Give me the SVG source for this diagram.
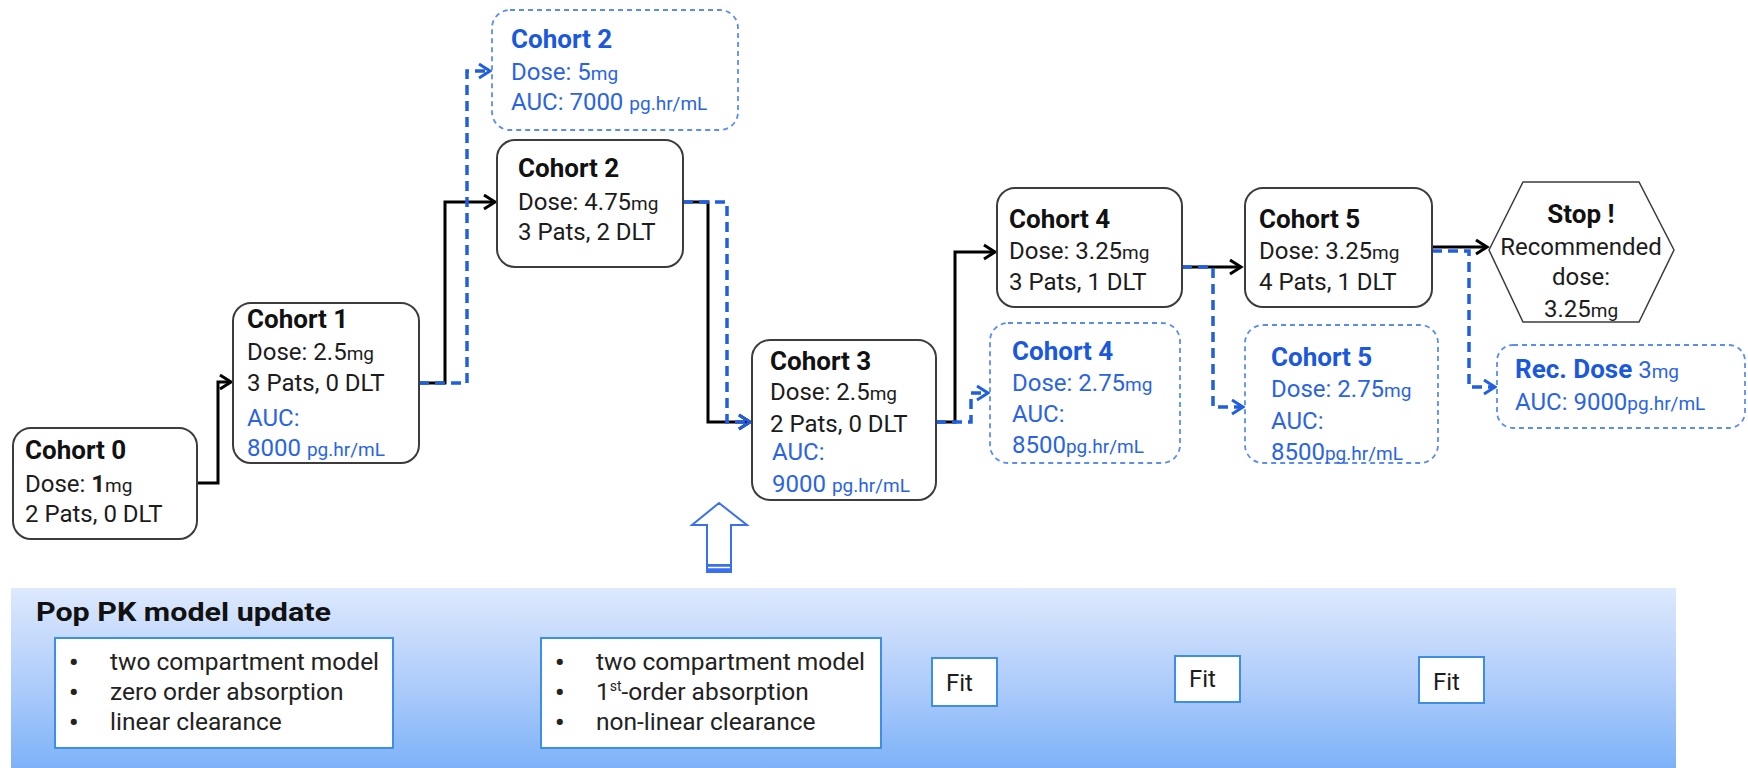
<svg xmlns="http://www.w3.org/2000/svg" width="1748" height="768" viewBox="0 0 1748 768">
<style>
text{font-family:Roboto,"Liberation Sans",Arial,sans-serif;}
.box{fill:#fff;stroke:#3c3c3c;stroke-width:2;}
.dbox{fill:#fff;stroke:#5b8def;stroke-width:1.8;stroke-dasharray:5 4;}
.h{font-size:26px;font-weight:bold;fill:#111;}
.hb{font-size:26px;font-weight:bold;fill:#1a58de;}
.t{font-size:24px;fill:#1c1c1c;}
.tb{font-size:24px;fill:#2a64e4;}
.u{font-size:19px;}
.ck{fill:none;stroke:#000;stroke-width:3;}
.cb{fill:none;stroke:#1f5fe0;stroke-width:3.5;stroke-dasharray:10 6;}
.pbox{fill:#fff;stroke:#3d8fe6;stroke-width:2;}
.bt{font-size:24.5px;fill:#222;}
.bul{font-size:26px;font-weight:bold;fill:#222;}
</style>
<defs>
<marker id="ak" markerUnits="userSpaceOnUse" markerWidth="18" markerHeight="20" refX="13" refY="8" orient="auto" overflow="visible">
<path d="M2,1 L13,8 L2,15" fill="none" stroke="#000" stroke-width="3" stroke-dasharray="none"/>
</marker>
<marker id="ab" markerUnits="userSpaceOnUse" markerWidth="18" markerHeight="20" refX="13" refY="8" orient="auto" overflow="visible">
<path d="M2,1 L13,8 L2,15" fill="none" stroke="#1f5fe0" stroke-width="3" stroke-dasharray="none"/>
</marker>
<linearGradient id="pg" x1="0" y1="0" x2="0" y2="1">
<stop offset="0" stop-color="#dde9fd"/>
<stop offset="0.5" stop-color="#b2cefb"/>
<stop offset="1" stop-color="#7db2f8"/>
</linearGradient>
</defs>

<g id="panel">
<rect x="11" y="588" width="1665" height="180" fill="url(#pg)"/>
<text x="36" y="621" class="h" font-size="27" textLength="295" lengthAdjust="spacingAndGlyphs">Pop PK model update</text>
</g>
<g id="model1">
<rect class="pbox" x="55" y="638" width="338" height="110"/>
<text class="bul" x="69" y="671">•</text><text class="bt" x="110" y="670">two compartment model</text>
<text class="bul" x="69" y="701">•</text><text class="bt" x="110" y="700">zero order absorption</text>
<text class="bul" x="69" y="731">•</text><text class="bt" x="110" y="730">linear clearance</text>
</g>
<g id="model2">
<rect class="pbox" x="541" y="638" width="340" height="110"/>
<text class="bul" x="555" y="671">•</text><text class="bt" x="596" y="670">two compartment model</text>
<text class="bul" x="555" y="701">•</text><text class="bt" x="596" y="700">1<tspan font-size="14" dy="-9">st</tspan><tspan dy="9">-order absorption</tspan></text>
<text class="bul" x="555" y="731">•</text><text class="bt" x="596" y="730">non-linear clearance</text>
</g>
<g id="fit1"><rect class="pbox" x="932" y="658" width="65" height="48"/><text class="t" x="946" y="691">Fit</text></g>
<g id="fit2"><rect class="pbox" x="1175" y="656" width="65" height="46"/><text class="t" x="1189" y="687">Fit</text></g>
<g id="fit3"><rect class="pbox" x="1419" y="657" width="65" height="46"/><text class="t" x="1433" y="690">Fit</text></g>

<g id="uparrow">
<polygon points="719,503 747,525 731,525 731,572 707,572 707,525 692,525" fill="#fff" stroke="#3a6ff0" stroke-width="2" stroke-linejoin="miter"/>
<rect x="707" y="564" width="24" height="8" fill="#3a6ff0"/>
<line x1="708" y1="567.5" x2="730" y2="567.5" stroke="#fff" stroke-width="1.5"/>
</g>

<g id="connectors">
<path class="ck" d="M197,483 H218 V382 H231" marker-end="url(#ak)"/>
<path class="ck" d="M419,383 H445 V202 H495" marker-end="url(#ak)"/>
<path class="cb" d="M419,383 H467 V71 H490" marker-end="url(#ab)"/>
<path class="ck" d="M683,202 H708 V422 H750" marker-end="url(#ak)"/>
<path class="cb" d="M683,202 H727 V422 H750" marker-end="url(#ab)"/>
<path class="ck" d="M936,422 H955 V252 H995" marker-end="url(#ak)"/>
<path class="cb" d="M936,422 H971 V393 H988" marker-end="url(#ab)"/>
<path class="ck" d="M1182,267 H1241" marker-end="url(#ak)"/>
<path class="cb" d="M1182,267 H1213 V407 H1243" marker-end="url(#ab)"/>
<path class="ck" d="M1432,247 H1487" marker-end="url(#ak)"/>
<path class="cb" d="M1432,251 H1469 V387 H1495" marker-end="url(#ab)"/>
</g>

<g id="cohort0">
<rect class="box" x="13" y="428" width="184" height="111" rx="18"/>
<text class="h" x="25" y="459">Cohort 0</text>
<text class="t" x="25" y="492">Dose: <tspan font-weight="bold">1</tspan><tspan class="u">mg</tspan></text>
<text class="t" x="25" y="522">2 Pats, 0 DLT</text>
</g>
<g id="cohort1">
<rect class="box" x="233" y="303" width="186" height="160" rx="18"/>
<text class="h" x="247" y="328">Cohort 1</text>
<text class="t" x="247" y="360">Dose: 2.5<tspan class="u">mg</tspan></text>
<text class="t" x="247" y="391">3 Pats, 0 DLT</text>
<text class="tb" x="247" y="426">AUC:</text>
<text class="tb" x="247" y="456">8000 <tspan class="u">pg.hr/mL</tspan></text>
</g>
<g id="cohort2-pred">
<rect class="dbox" x="492" y="10" width="246" height="120" rx="18"/>
<text class="hb" x="511" y="48">Cohort 2</text>
<text class="tb" x="511" y="80">Dose: 5<tspan class="u">mg</tspan></text>
<text class="tb" x="511" y="110">AUC: 7000 <tspan class="u">pg.hr/mL</tspan></text>
</g>
<g id="cohort2">
<rect class="box" x="497" y="140" width="186" height="127" rx="18"/>
<text class="h" x="518" y="177">Cohort 2</text>
<text class="t" x="518" y="210">Dose: 4.75<tspan class="u">mg</tspan></text>
<text class="t" x="518" y="240">3 Pats, 2 DLT</text>
</g>
<g id="cohort3">
<rect class="box" x="752" y="340" width="184" height="160" rx="18"/>
<text class="h" x="770" y="370">Cohort 3</text>
<text class="t" x="770" y="400">Dose: 2.5<tspan class="u">mg</tspan></text>
<text class="t" x="770" y="432">2 Pats, 0 DLT</text>
<text class="tb" x="772" y="460">AUC:</text>
<text class="tb" x="772" y="492">9000 <tspan class="u">pg.hr/mL</tspan></text>
</g>
<g id="cohort4">
<rect class="box" x="997" y="188" width="185" height="119" rx="18"/>
<text class="h" x="1009" y="228">Cohort 4</text>
<text class="t" x="1009" y="259">Dose: 3.25<tspan class="u">mg</tspan></text>
<text class="t" x="1009" y="290">3 Pats, 1 DLT</text>
</g>
<g id="cohort4-pred">
<rect class="dbox" x="990" y="323" width="190" height="140" rx="18"/>
<text class="hb" x="1012" y="360">Cohort 4</text>
<text class="tb" x="1012" y="391">Dose: 2.75<tspan class="u">mg</tspan></text>
<text class="tb" x="1012" y="422">AUC:</text>
<text class="tb" x="1012" y="453">8500<tspan class="u">pg.hr/mL</tspan></text>
</g>
<g id="cohort5">
<rect class="box" x="1245" y="188" width="187" height="119" rx="18"/>
<text class="h" x="1259" y="228">Cohort 5</text>
<text class="t" x="1259" y="259">Dose: 3.25<tspan class="u">mg</tspan></text>
<text class="t" x="1259" y="290">4 Pats, 1 DLT</text>
</g>
<g id="cohort5-pred">
<rect class="dbox" x="1245" y="325" width="193" height="138" rx="18"/>
<text class="hb" x="1271" y="366">Cohort 5</text>
<text class="tb" x="1271" y="397">Dose: 2.75<tspan class="u">mg</tspan></text>
<text class="tb" x="1271" y="429">AUC:</text>
<text class="tb" x="1271" y="460">8500<tspan class="u">pg.hr/mL</tspan></text>
</g>
<g id="stop">
<polygon points="1489,250 1523,182 1639,182 1674,250 1639,322 1523,322" fill="#fff" stroke="#3c3c3c" stroke-width="1.5"/>
<text class="h" x="1581" y="223" text-anchor="middle">Stop !</text>
<text class="t" x="1581" y="255" text-anchor="middle" font-size="25">Recommended</text>
<text class="t" x="1581" y="285" text-anchor="middle" font-size="25">dose:</text>
<text class="t" x="1581" y="317" text-anchor="middle" font-size="25">3.25<tspan class="u">mg</tspan></text>
</g>
<g id="recdose">
<rect class="dbox" x="1497" y="345" width="248" height="83" rx="16"/>
<text class="tb" x="1515" y="378"><tspan class="hb">Rec. Dose</tspan> 3<tspan class="u">mg</tspan></text>
<text class="tb" x="1515" y="410">AUC: 9000<tspan class="u">pg.hr/mL</tspan></text>
</g>
</svg>
